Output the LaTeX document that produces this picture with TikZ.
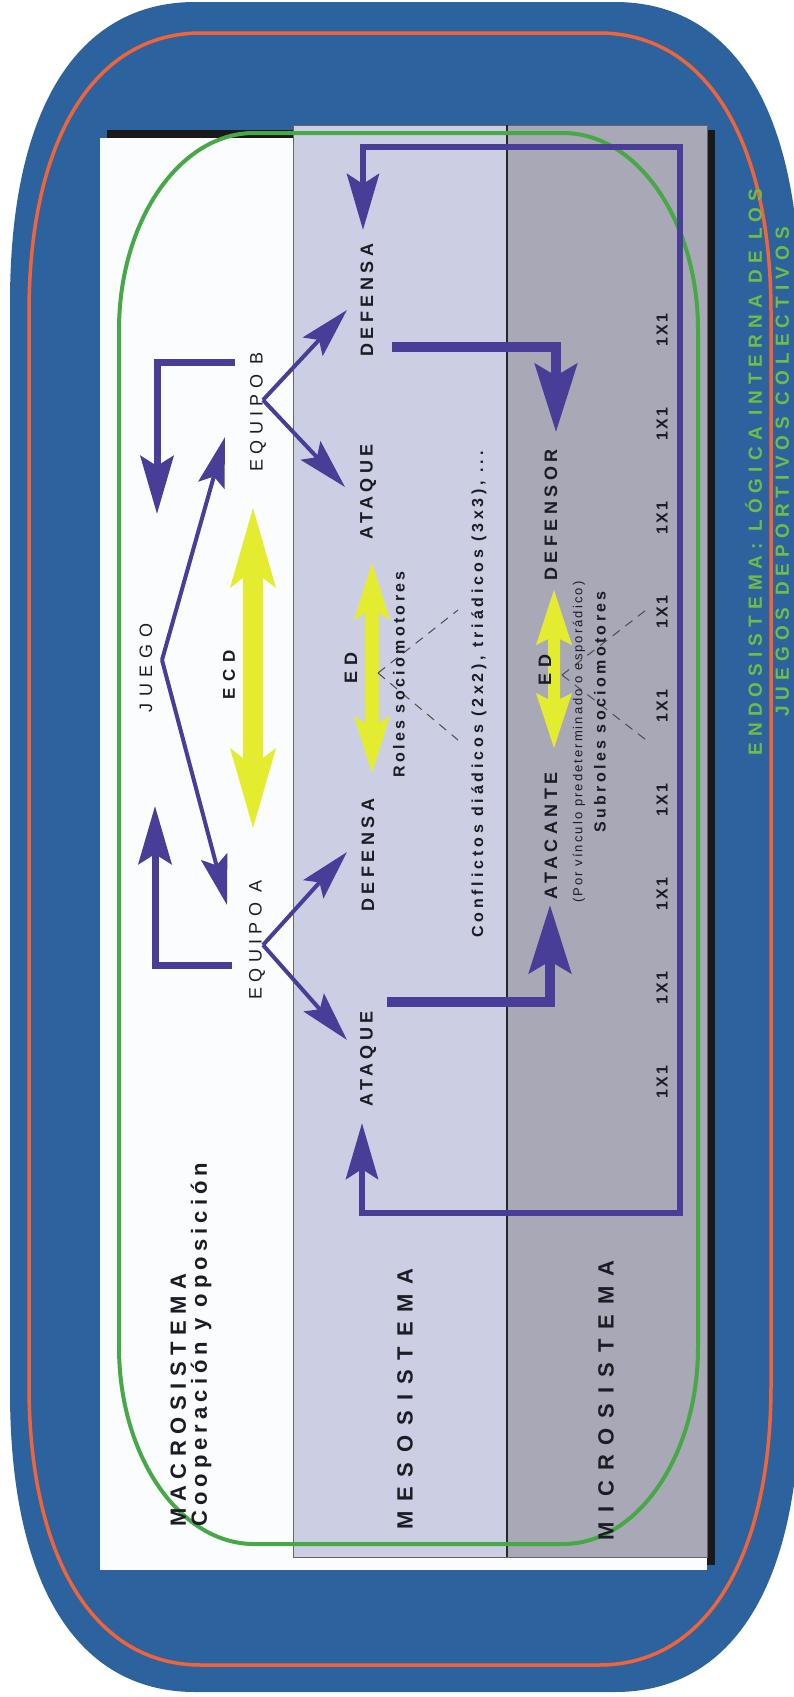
\documentclass[tikz,border=0pt]{standalone}
\usepackage{fontspec}
\setmainfont{Liberation Sans}
\newfontfamily\fLab[LetterSpace=30]{Liberation Sans}
\newfontfamily\fRole[LetterSpace=25]{Liberation Sans}
\newfontfamily\fJuego[LetterSpace=38]{Liberation Sans}
\newfontfamily\fEcd[LetterSpace=40]{Liberation Sans}
\newfontfamily\fSys[LetterSpace=45]{Liberation Sans}
\newfontfamily\fMacro[LetterSpace=30]{Liberation Sans}
\newfontfamily\fCoop[LetterSpace=23]{Liberation Sans}
\newfontfamily\fRoles[LetterSpace=21]{Liberation Sans}
\newfontfamily\fConf[LetterSpace=24]{Liberation Sans}
\newfontfamily\fVinc[LetterSpace=16]{Liberation Sans}
\newfontfamily\fOne[LetterSpace=15]{Liberation Sans}
\newfontfamily\fEndo[LetterSpace=32]{Liberation Sans}
\usetikzlibrary{arrows.meta}

\definecolor{bgblue}{RGB}{44,99,158}
\definecolor{rimorange}{RGB}{240,100,58}
\definecolor{loopgreen}{RGB}{72,168,72}
\definecolor{endogreen}{RGB}{112,188,70}
\definecolor{linkpurple}{RGB}{72,62,152}
\definecolor{ecdyellow}{RGB}{228,236,48}
\definecolor{mesofill}{RGB}{204,207,228}
\definecolor{microfill}{RGB}{168,168,182}
\definecolor{macrofill}{RGB}{251,252,254}
\definecolor{inkdark}{RGB}{28,28,36}

% rectangle with rounded corners: x1 y1 x2 y2 rx ry handle options
% (handle = 1 - control length factor; 0.448 gives a quarter ellipse)
\newcommand{\ovalshape}[8]{%
  \path[#8] ({#1+#5},#2) -- ({#3-#5},#2)
    .. controls ({#3-#7*#5},#2) and (#3,{#2+#7*#6}) .. (#3,{#2+#6})
    -- (#3,{#4-#6})
    .. controls (#3,{#4-#7*#6}) and ({#3-#7*#5},#4) .. ({#3-#5},#4)
    -- ({#1+#5},#4)
    .. controls ({#1+#7*#5},#4) and (#1,{#4-#7*#6}) .. (#1,{#4-#6})
    -- (#1,{#2+#6})
    .. controls (#1,{#2+#7*#6}) and ({#1+#7*#5},#2) .. ({#1+#5},#2) -- cycle;}

% vertical double-headed block arrow: centre x, top tip, bottom tip, head half-width, shaft half-width, head length, notch
\newcommand{\dblarrow}[7]{%
  \fill[ecdyellow] (#1,#2) -- ({#1+#4},{#2+#6}) -- ({#1+#5},{#2+#6-#7}) -- ({#1+#5},{#3-#6+#7})
    -- ({#1+#4},{#3-#6}) -- (#1,#3) -- ({#1-#4},{#3-#6}) -- ({#1-#5},{#3-#6+#7})
    -- ({#1-#5},{#2+#6-#7}) -- ({#1-#4},{#2+#6}) -- cycle;}

\newcommand{\szLab}{\fontsize{18}{20}\selectfont}

\tikzset{
  lbl/.style={inner sep=0pt, rotate=90, text=inkdark},
  thinlink/.style={draw=linkpurple, line width=4pt,
    -{Stealth[length=50pt,width=27pt,inset=9pt]}},
  bracketlink/.style={draw=linkpurple, line width=7pt, line join=miter,
    -{Stealth[length=58pt,width=33pt,inset=10pt]}},
  looplink/.style={draw=linkpurple, line width=6.5pt, line join=miter,
    {Stealth[length=56pt,width=32pt,inset=10pt]}-{Stealth[length=56pt,width=32pt,inset=10pt]}},
  thicklink/.style={draw=linkpurple, line width=9.5pt, line join=miter,
    -{Stealth[length=68pt,width=42pt,inset=12pt]}},
  guide/.style={draw=black!70, line width=1pt, dash pattern=on 9pt off 7pt},
}

\begin{document}
\begin{tikzpicture}[x=1pt,y=-1pt]
\useasboundingbox (0,0) rectangle (794,1697);
\fill[white] (0,0) rectangle (794,1697);

% frame
\begin{scope}
  \clip (0,0) rectangle (794,1697);
  \ovalshape{10}{2}{800}{1692}{185}{300}{0.36}{fill=bgblue}
\end{scope}
\ovalshape{29}{33}{771}{1665}{172}{280}{0.38}{draw=rimorange, line width=3.5pt}

% panels
\fill[black!90] (107,130) rectangle (715,1565);
\fill[macrofill] (100,138) rectangle (707,1570);
\filldraw[fill=mesofill, draw=black!60, line width=0.8pt] (293,125) rectangle (507,1557);
\filldraw[fill=microfill, draw=black!60, line width=0.8pt] (507,125) rectangle (707,1557);
\draw[line width=2.5pt, black!85] (507,125) -- (507,1557);

% endosystem outline
\ovalshape{119}{133}{698}{1544}{135}{197}{0.448}{draw=loopgreen, line width=4pt}

% yellow interaction arrows
\dblarrow{253}{508}{828}{23}{10}{80}{10}
\dblarrow{372}{563}{773}{18}{7}{57}{7}
\dblarrow{554}{590}{748}{18}{6}{55}{6}

% dashed guides
\coordinate (mkM) at (378,673);
\coordinate (mkMu) at (458,610);
\coordinate (mkMl) at (458,740);
\coordinate (mkS) at (562,675);
\coordinate (mkSu) at (650,607);
\coordinate (mkSl) at (650,743);
\draw[guide] (mkM) -- (mkMu);
\draw[guide] (mkM) -- (mkMl);
\draw[guide] (mkS) -- (mkSu);
\draw[guide] (mkS) -- (mkSl);

% macro level texts
\node[lbl, font={\fJuego\szLab}] (juego) at (146,668) {JUEGO};
\node[lbl, font={\fLab\szLab}] (eqB) at (258,412) {EQUIPO B};
\node[lbl, font={\fLab\szLab}] (eqA) at (257,940) {EQUIPO A};
\node[lbl, font={\fEcd\bfseries\fontsize{17}{19}\selectfont}] (ecd) at (229,675) {ECD};
\node[lbl, anchor=west, align=left, font={\bfseries\fontsize{22}{21}\selectfont}] (macro) at (191,1527)
  {{\fMacro\bfseries MACROSISTEMA}\\{\fCoop\bfseries Cooperación y oposición}};

% meso level texts
\node[lbl, font={\fRole\bfseries\szLab}] (defB) at (367,300) {DEFENSA};
\node[lbl, font={\fRole\bfseries\szLab}] (atqB) at (368,492) {ATAQUE};
\node[lbl, font={\fRole\bfseries\szLab}] (defA) at (368,855) {DEFENSA};
\node[lbl, font={\fRole\bfseries\szLab}] (atqA) at (368,1059) {ATAQUE};
\node[lbl, font={\fLab\bfseries\szLab}] (edMeso) at (351,668) {ED};
\node[lbl, anchor=west, font={\fRoles\bfseries\fontsize{16}{18}\selectfont}] (roles) at (399,778) {Roles sociomotores};
\node[lbl, anchor=west, font={\fConf\bfseries\fontsize{16}{18}\selectfont}] (conf) at (479,938) {Conflictos diádicos (2x2), triádicos (3x3), ...};
\node[lbl, anchor=west, font={\fSys\bfseries\fontsize{22}{24}\selectfont}] (meso) at (405,1530) {MESOSISTEMA};

% micro level texts
\node[lbl, font={\fRole\bfseries\szLab}] (defensor) at (551,515) {DEFENSOR};
\node[lbl, anchor=west, font={\fRole\bfseries\szLab}] (atacante) at (551,900) {ATACANTE};
\node[lbl, font={\fLab\bfseries\szLab}] (edMicro) at (545,670) {ED};
\node[lbl, anchor=west, font={\fVinc\fontsize{13}{15}\selectfont}] (vinculo) at (579,903) {(Por vínculo predeterminado o esporádico)};
\node[lbl, anchor=west, font={\fRoles\bfseries\fontsize{16}{18}\selectfont}] (subroles) at (600,833) {Subroles sociomotores};
\foreach \i in {0,...,8}
  \node[lbl, font={\fOne\bfseries\fontsize{16}{18}\selectfont}] (one\i) at (662,{330+94*\i}) {1X1};
\node[lbl, anchor=west, font={\fSys\bfseries\fontsize{22}{24}\selectfont}] (micro) at (606,1541) {MICROSISTEMA};

% side caption
\node[lbl, align=center, text=endogreen, font={\fEndo\bfseries\fontsize{19}{27}\selectfont}] (endo) at (767,472)
  {ENDOSISTEMA: LÓGICA INTERNA DE LOS\\JUEGOS DEPORTIVOS COLECTIVOS};

% connector points
\coordinate (bkB0) at (235,362);
\coordinate (bkB1) at (157,362);
\coordinate (bkB2) at (157,514);
\coordinate (bkA0) at (232,965);
\coordinate (bkA1) at (155,965);
\coordinate (bkA2) at (155,806);
\coordinate (vJ) at (162,660);
\coordinate (tB) at (225,437);
\coordinate (tA) at (227,905);
\coordinate (vB) at (263,400);
\coordinate (tDefB) at (347,310);
\coordinate (tAtqB) at (345,487);
\coordinate (vA) at (263,945);
\coordinate (tDefA) at (347,852);
\coordinate (tAtqA) at (347,1040);
\coordinate (lp0) at (362,1123);
\coordinate (lp1) at (362,1213);
\coordinate (lp2) at (680,1213);
\coordinate (lp3) at (680,147);
\coordinate (lp4) at (363,147);
\coordinate (lp5) at (363,230);
\coordinate (ka0) at (387,1002);
\coordinate (ka1) at (550,1002);
\coordinate (ka2) at (550,905);
\coordinate (kd0) at (392,347);
\coordinate (kd1) at (556,347);
\coordinate (kd2) at (556,432);

% connectors
\draw[bracketlink] (bkB0) -- (bkB1) -- (bkB2);
\draw[bracketlink] (bkA0) -- (bkA1) -- (bkA2);
\draw[thinlink] (vJ) -- (tB);
\draw[thinlink] (vJ) -- (tA);
\draw[thinlink] (vB) -- (tDefB);
\draw[thinlink] (vB) -- (tAtqB);
\draw[thinlink] (vA) -- (tDefA);
\draw[thinlink] (vA) -- (tAtqA);
\draw[looplink] (lp0) -- (lp1) -- (lp2) -- (lp3) -- (lp4) -- (lp5);
\draw[thicklink] (ka0) -- (ka1) -- (ka2);
\draw[thicklink] (kd0) -- (kd1) -- (kd2);
\end{tikzpicture}
\end{document}
